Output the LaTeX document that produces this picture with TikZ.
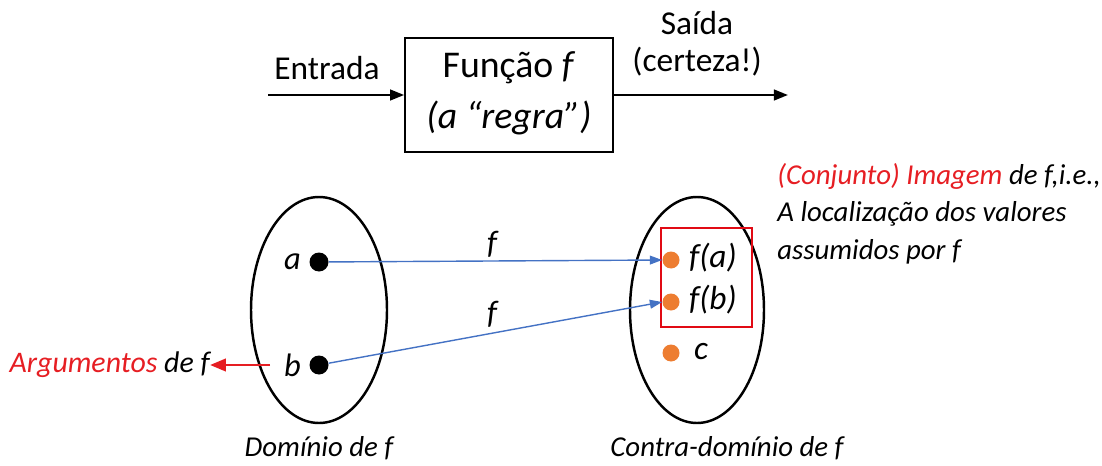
\documentclass[tikz,border=0pt]{standalone}
\usepackage{fontspec}
\setmainfont{Carlito}
\usetikzlibrary{arrows.meta,shapes.geometric}

\definecolor{argred}{RGB}{230,30,35}
\definecolor{boxred}{RGB}{225,10,20}
\definecolor{mapblue}{RGB}{68,114,196}
\definecolor{dotorange}{RGB}{237,125,49}

\newcommand{\fsz}[1]{\fontsize{#1}{#1}\selectfont}

\begin{document}
\begin{tikzpicture}[
    x=0.02cm, y=-0.02cm,
    flow/.style={-{Triangle[length=8pt,width=6pt]}, line width=1.4pt},
    rulebox/.style={draw, line width=0.9pt, minimum width=208*0.02cm, minimum height=114*0.02cm, align=center},
    setoval/.style={draw, ellipse, line width=1.4pt},
    elem/.style={circle, fill=black, inner sep=0pt, minimum size=19*0.02cm},
    value/.style={circle, fill=dotorange, inner sep=0pt, minimum size=17*0.02cm},
    mapping/.style={draw=mapblue, line width=0.8pt, -{Triangle[length=7pt,width=5pt]}},
    lbl/.style={font=\fsz{18.5pt}\itshape, inner sep=1pt},
    caption/.style={font=\fsz{16.4pt}\itshape, inner sep=0pt},
    every node/.style={font=\fsz{19pt}}
  ]

  \useasboundingbox (0,0) rectangle (1102,466);

  % Function block
  \node[rulebox] (F) at (509,95) {};
  \node (Fa) at (509,68) {\fsz{21.5pt}Função \textit{f}};
  \node (Fb) at (509,118) {\fsz{21.5pt}\itshape(a “regra”)};
  \coordinate (in) at (268,95);
  \coordinate (out) at (788,95);
  \node (entrada) at (327,68) {Entrada};
  \node (saida1) at (697,23) {Saída};
  \node (saida2) at (697,62) {(certeza!)};
  \draw[flow] (in) -- (F.west);
  \draw[flow] (F.east) -- (out);

  % Domain
  \node[setoval, minimum width=136*0.02cm, minimum height=226*0.02cm] (D) at (319,310) {};
  \node[elem] (a) at (319,262) {};
  \node[elem] (b) at (319,365) {};
  \node[lbl, anchor=east] (la) at (303,262) {a};
  \node[lbl, anchor=east] (lb) at (303,365) {b};
  \node[caption] (dom) at (319,448) {Domínio de f};
  \node[caption, font=\fsz{17pt}\itshape, anchor=east] (arg) at (210,365) {\textcolor{argred}{Argumentos} de f};
  \draw[argred, line width=1.6pt, -{Triangle[length=9pt,width=7pt]}] (270,365) -- (arg.east);

  % Codomain
  \node[setoval, minimum width=134*0.02cm, minimum height=226*0.02cm] (C) at (697,310) {};
  \node[value] (fa) at (671,260) {};
  \node[value] (fb) at (671,302) {};
  \node[value] (c) at (671,353) {};
  \node[lbl, font=\fsz{19pt}\itshape, anchor=west] (lfa) at (687,258) {f(a)};
  \node[lbl, font=\fsz{19pt}\itshape, anchor=west] (lfb) at (687,300) {f(b)};
  \node[lbl, font=\fsz{19pt}\itshape, anchor=west] (lc) at (692,352) {c};
  \draw[boxred, line width=1.5pt] (661,228) rectangle (752,327);
  \node[caption] (cod) at (727,448) {Contra-domínio de f};
  \node[caption, anchor=north west, align=left, inner sep=0pt] (img) at (777,163)
    {\textcolor{argred}{(Conjunto) Imagem} de f,i.e.,\\[5pt]A localização dos valores\\[5pt]assumidos por f};

  % Mapping
  \draw[mapping] (a) -- (fa.west);
  \draw[mapping] (b) -- (fb.west);
  \node[lbl] (m1) at (492,244) {f};
  \node[lbl] (m2) at (492,314) {f};

\end{tikzpicture}
\end{document}
